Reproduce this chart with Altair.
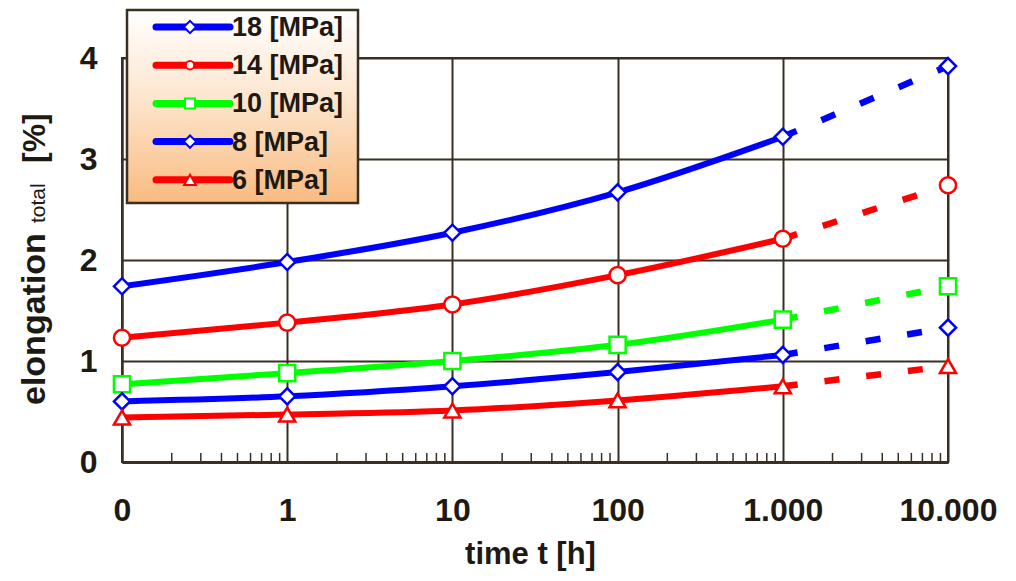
import json
import math
import altair as alt
import pandas as pd

# ---- data ----
time_labels = ["0", "1", "10", "100", "1.000", "10.000"]
series = ["18 [MPa]", "14 [MPa]", "10 [MPa]", "8 [MPa]", "6 [MPa]"]
series_colors = ["#0000ff", "#ff0000", "#00ff00", "#0000ff", "#ff0000"]
series_shapes = ["diamond", "circle", "square", "diamond", "triangle-up"]

s18 = [1.74, 1.98, 2.27, 2.67, 3.22, 3.92]
s14 = [1.23, 1.38, 1.56, 1.85, 2.21, 2.74]
s10 = [0.77, 0.88, 1.00, 1.16, 1.41, 1.74]
s8 = [0.60, 0.65, 0.75, 0.89, 1.06, 1.33]
s6 = [0.44, 0.47, 0.51, 0.61, 0.75, 0.95]
values = [s18, s14, s10, s8, s6]

y_ticks = [0, 1, 2, 3, 4]
minor_steps = [2, 3, 4, 5, 6, 7, 8, 9]

# ---- tables ----
rows = []
for name, vals in zip(series, values):
    for i, v in enumerate(vals):
        rows.append({"series": name, "t": i, "value": v})
df = pd.DataFrame(rows)
solid = df[df["t"] <= 4]
dashed = df[df["t"] >= 4]

minor = pd.DataFrame(
    [{"pos": d + math.log10(k)} for d in range(len(time_labels) - 1) for k in minor_steps]
)

FONT = "Liberation Sans"
INK = "#1e1912"
GRID = "#3a2f22"
W, H = 826, 404

color_scale = alt.Scale(domain=series, range=series_colors)
shape_scale = alt.Scale(domain=series, range=series_shapes)
label_expr = json.dumps(time_labels) + "[datum.value]"

x_enc = alt.X(
    "t:Q",
    scale=alt.Scale(domain=[0, len(time_labels) - 1], nice=False, zero=False),
    axis=alt.Axis(
        values=list(range(len(time_labels))),
        labelExpr=label_expr,
        labelFlush=False,
        labelOverlap=False,
        labelFont=FONT,
        labelFontSize=32,
        labelFontWeight="bold",
        labelColor=INK,
        labelPadding=33,
        ticks=False,
        tickSize=0,
        grid=True,
        gridColor=GRID,
        gridWidth=2,
        gridOpacity=1,
        domainColor=GRID,
        domainWidth=3,
        title="time t [h]",
        titleFont=FONT,
        titleFontSize=31,
        titleFontWeight="bold",
        titleColor=INK,
        titleX=408,
        titleY=101,
        titleAlign="center",
        titleBaseline="alphabetic",
    ),
)
y_enc = alt.Y(
    "value:Q",
    scale=alt.Scale(domain=[0, 4], nice=False, zero=True),
    axis=alt.Axis(
        values=y_ticks,
        format="d",
        labelFont=FONT,
        labelFontSize=32,
        labelFontWeight="bold",
        labelColor=INK,
        labelPadding=25,
        ticks=False,
        tickSize=0,
        grid=True,
        gridColor=GRID,
        gridWidth=2,
        gridOpacity=1,
        domainColor=GRID,
        domainWidth=2,
        title=None,
    ),
)

base = alt.Chart(solid)

solid_lines = base.mark_line(strokeWidth=6, interpolate="monotone").encode(
    x=x_enc,
    y=y_enc,
    color=alt.Color("series:N", scale=color_scale, legend=None),
    detail="series:N",
)

dashed_lines = alt.Chart(dashed).mark_line(strokeWidth=6.5, strokeDash=[15, 27]).encode(
    x="t:Q",
    y="value:Q",
    color=alt.Color("series:N", scale=color_scale, legend=None),
    detail="series:N",
)

points = alt.Chart(df).mark_point(
    filled=True, fill="white", strokeWidth=2.5, opacity=1, size=260
).encode(
    x="t:Q",
    y="value:Q",
    stroke=alt.Stroke("series:N", scale=color_scale, legend=None),
    shape=alt.Shape("series:N", scale=shape_scale, legend=None),
)

minor_ticks = alt.Chart(minor).mark_rule(color=GRID, strokeWidth=1.5).encode(
    x="pos:Q", y=alt.datum(0), y2=alt.datum(0.09)
)

# ---- legend box (drawn by hand, overlapping the plot) ----
legend_box = alt.Chart(pd.DataFrame({"a": [0]})).mark_rect(
    color=alt.Gradient(
        gradient="linear",
        stops=[
            alt.GradientStop(color="#ffffff", offset=0),
            alt.GradientStop(color="#fde6cf", offset=0.45),
            alt.GradientStop(color="#f9bb80", offset=1),
        ],
        x1=0, x2=0, y1=0, y2=1,
    ),
    stroke=GRID,
    strokeWidth=2.5,
).encode(x=alt.value(5), x2=alt.value(236), y=alt.value(-48), y2=alt.value(145))

legend_layers = [legend_box]
legend_top, legend_step = -31, 38.2
legend_sizes = {"diamond": 150, "circle": 70, "square": 100, "triangle-up": 140}
for i, (name, col, shp) in enumerate(zip(series, series_colors, series_shapes)):
    yv = legend_top + i * legend_step
    one = alt.Chart(pd.DataFrame({"series": [name]}))
    legend_layers.append(
        one.mark_rule(color=col, strokeWidth=7, strokeCap="round").encode(
            x=alt.value(34), x2=alt.value(108), y=alt.value(yv)
        )
    )
    legend_layers.append(
        one.mark_point(
            shape=shp, size=legend_sizes[shp], filled=True, fill="white",
            stroke=col, strokeWidth=2, opacity=1,
        ).encode(x=alt.value(68), y=alt.value(yv))
    )
    legend_layers.append(
        one.mark_text(
            align="left", baseline="middle", font=FONT, fontSize=27,
            fontWeight="bold", color=INK,
        ).encode(x=alt.value(110), y=alt.value(yv + 1), text="series:N")
    )

# ---- y title: elongation + small "total" + [%] ----
title_df = pd.DataFrame({"a": [0]})
t1 = alt.Chart(title_df).mark_text(
    angle=270, align="left", baseline="alphabetic", font=FONT, fontSize=34,
    fontWeight="bold", color=INK,
).encode(x=alt.value(-77), y=alt.value(347), text=alt.value("elongation"))
t2 = alt.Chart(title_df).mark_text(
    angle=270, align="left", baseline="alphabetic", font=FONT, fontSize=21,
    color=INK,
).encode(x=alt.value(-77), y=alt.value(165), text=alt.value("total"))
t3 = alt.Chart(title_df).mark_text(
    angle=270, align="left", baseline="alphabetic", font=FONT, fontSize=32,
    fontWeight="bold", color=INK,
).encode(x=alt.value(-77), y=alt.value(105), text=alt.value("[%]"))

chart = alt.layer(
    solid_lines, minor_ticks, dashed_lines, points, *legend_layers, t1, t2, t3
).properties(
    width=W,
    height=H,
    autosize=alt.AutoSizeParams(type="none"),
    padding={"left": 114, "top": 50, "right": 60, "bottom": 111},
    background="white",
).configure_view(stroke=GRID, strokeWidth=2)

chart.save("out.html", embed_options={"renderer": "svg", "actions": False})
